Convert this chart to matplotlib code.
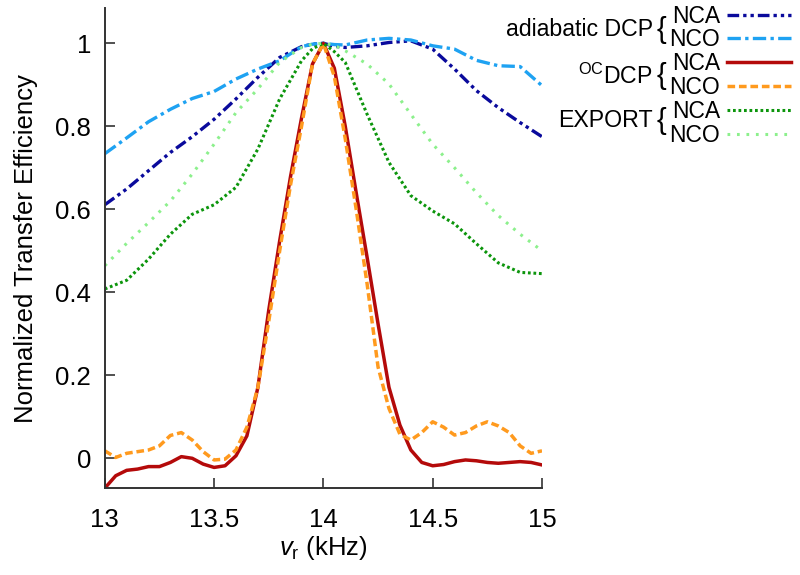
import matplotlib
matplotlib.use('Agg')
import matplotlib.pyplot as plt
from matplotlib.ticker import FuncFormatter

plt.rcParams['font.family'] = ['Liberation Sans', 'DejaVu Sans']
plt.rcParams['mathtext.fontset'] = 'custom'
plt.rcParams['mathtext.rm'] = 'Liberation Sans'
plt.rcParams['mathtext.it'] = 'Liberation Sans:italic'

# spinning frequency grid for the broad curves (kHz)
x_broad = [13.0, 13.1, 13.2, 13.3, 13.4, 13.5, 13.6, 13.7, 13.8, 13.9, 13.95,
           14.0, 14.05, 14.1, 14.2, 14.3, 14.4, 14.5, 14.6, 14.7, 14.8, 14.9, 15.0]

adiabatic_nca = [0.611, 0.649, 0.693, 0.737, 0.775, 0.817, 0.866, 0.918, 0.966, 0.992, 0.998,
                 1.0, 0.993, 0.990, 0.994, 1.002, 1.006, 0.986, 0.938, 0.886, 0.845, 0.809, 0.775]
adiabatic_nco = [0.734, 0.772, 0.811, 0.841, 0.867, 0.884, 0.914, 0.938, 0.958, 0.992, 0.998,
                 1.0, 0.997, 0.996, 1.008, 1.012, 1.008, 0.994, 0.986, 0.959, 0.946, 0.944, 0.898]
export_nca = [0.408, 0.429, 0.480, 0.540, 0.588, 0.611, 0.653, 0.745, 0.866, 0.958, 0.987,
              1.0, 0.980, 0.954, 0.829, 0.713, 0.633, 0.596, 0.565, 0.517, 0.471, 0.448, 0.445]
export_nco = [0.464, 0.518, 0.568, 0.620, 0.685, 0.757, 0.833, 0.890, 0.954, 0.990, 0.998,
              1.0, 0.995, 0.982, 0.950, 0.902, 0.829, 0.757, 0.700, 0.640, 0.585, 0.540, 0.500]

# finer grid for the narrow optimal-control curves
x_fine = [13.0, 13.05, 13.1, 13.15, 13.2, 13.25, 13.3, 13.35, 13.4, 13.45, 13.5,
          13.55, 13.6, 13.65, 13.7, 13.75, 13.8, 13.85, 13.9, 13.95, 14.0,
          14.05, 14.1, 14.15, 14.2, 14.25, 14.3, 14.35, 14.4, 14.45, 14.5,
          14.55, 14.6, 14.65, 14.7, 14.75, 14.8, 14.85, 14.9, 14.95, 15.0]

oc_nca = [-0.072, -0.042, -0.029, -0.026, -0.020, -0.020, -0.010, 0.004, 0.000, -0.014, -0.022,
          -0.018, 0.006, 0.054, 0.170, 0.357, 0.524, 0.680, 0.820, 0.950, 1.0,
          0.940, 0.800, 0.640, 0.484, 0.324, 0.171, 0.080, 0.020, -0.010, -0.018,
          -0.015, -0.008, -0.004, -0.006, -0.010, -0.012, -0.010, -0.008, -0.010, -0.016]
oc_nco = [0.018, 0.002, 0.012, 0.016, 0.020, 0.030, 0.055, 0.062, 0.044, 0.016, -0.004,
          -0.002, 0.020, 0.075, 0.170, 0.330, 0.500, 0.660, 0.800, 0.950, 1.0,
          0.920, 0.770, 0.600, 0.420, 0.220, 0.120, 0.058, 0.044, 0.062, 0.088,
          0.075, 0.056, 0.062, 0.078, 0.088, 0.078, 0.062, 0.030, 0.012, 0.018]

fig = plt.figure(figsize=(8, 5.75), dpi=100)
ax = fig.add_axes([0.131, 0.151, 0.5465, 0.835])

ax.plot(x_broad, adiabatic_nca, color='#0a0a9c', lw=2.4,
        linestyle=(0, (3.5, 1.2, 1, 1.2, 1, 1.2)), label='NCA')
ax.plot(x_broad, adiabatic_nco, color='#1ea2f2', lw=2.4,
        linestyle=(0, (4, 1.3, 1, 1.3)), label='NCO')
ax.plot(x_fine, oc_nca, color='#b40a0a', lw=2.5, label='NCA')
ax.plot(x_fine, oc_nco, color='#ff9a1e', lw=2.5,
        linestyle=(0, (2.2, 1.1)), label='NCO')
ax.plot(x_broad, export_nca, color='#0c950c', lw=2.2,
        linestyle=(0, (0.9, 0.9)), label='NCA')
ax.plot(x_broad, export_nco, color='#8cf08c', lw=2.2,
        linestyle=(0, (0.9, 2.2)), label='NCO')

ax.set_xlim(13, 15)
ax.set_ylim(-0.072, 1.085)
ax.set_xticks([13, 13.5, 14, 14.5, 15])
ax.set_yticks([0, 0.2, 0.4, 0.6, 0.8, 1.0])
fmt = FuncFormatter(lambda v, p: '%g' % v)
ax.xaxis.set_major_formatter(fmt)
ax.yaxis.set_major_formatter(fmt)
ax.tick_params(direction='in', length=7, width=1.2, labelsize=18.5, color='#333333')
ax.tick_params(axis='y', pad=10)
ax.tick_params(axis='x', pad=14)
for s in ['top', 'right']:
    ax.spines[s].set_visible(False)
for s in ['left', 'bottom']:
    ax.spines[s].set_linewidth(1.4)
    ax.spines[s].set_color('#333333')

ax.set_xlabel(r'$\mathit{v}_{\mathrm{r}}$ (kHz)', fontsize=18.5, labelpad=2)
ax.set_ylabel('Normalized Transfer Efficiency', fontsize=18.5, labelpad=12)

leg = ax.legend(loc='upper right', bbox_to_anchor=(0.989, 0.992), bbox_transform=fig.transFigure,
                frameon=False, fontsize=16.5, markerfirst=False, handlelength=2.8,
                handletextpad=0.3, labelspacing=0.035, borderpad=0, borderaxespad=0)

groups = ['adiabatic DCP', r'$^{\mathrm{OC}}$DCP', 'EXPORT']
group_y = [0.948, 0.868, 0.790]
for g, gy in zip(groups, group_y):
    fig.text(0.816, gy, g, ha='right', va='center', fontsize=16.7)
    fig.text(0.821, gy, '{', ha='left', va='center', fontsize=21, fontweight='light')

fig.savefig('out.png', dpi=100)
